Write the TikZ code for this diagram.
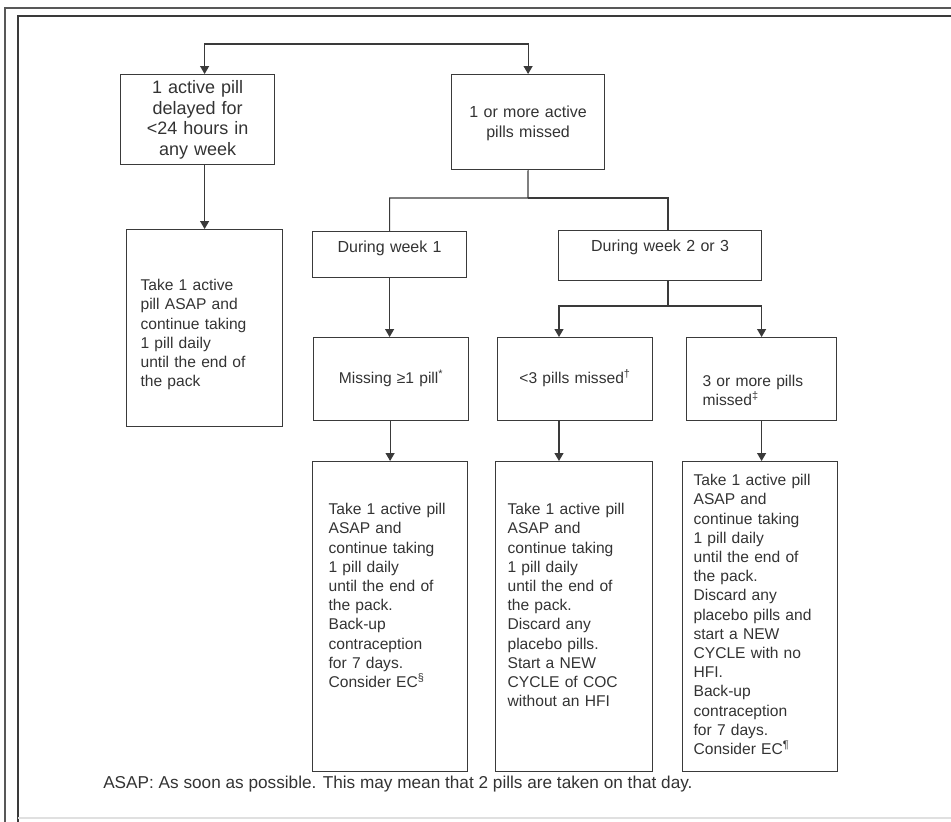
\documentclass[tikz,border=0pt]{standalone}
\usepackage{fontspec}
\setmainfont{Liberation Sans}
\usetikzlibrary{arrows.meta}

\definecolor{ink}{HTML}{333333}
\definecolor{rule}{HTML}{3A3A3A}
\newcommand\bodyfont{\fontsize{11.7}{14.4}\selectfont}
\newcommand\bigfont{\fontsize{13.5}{15.4}\selectfont}
\newcommand\midfont{\fontsize{12}{15}\selectfont}
\newcommand\notefont{\fontsize{12.9}{15}\selectfont}

\tikzset{
  box/.style={draw=rule, line width=0.9pt, text=ink, anchor=north west, inner ysep=0pt, font=\bodyfont},
  cell/.style n args={4}{inner xsep=#1, text width=#2, text height=#3, text depth=#4},
  link/.style={draw=rule, line width=0.9pt},
  arr/.style={link, -{Triangle[length=6pt,width=6.75pt]}},
}

\begin{document}
\begin{tikzpicture}[x=0.75pt, y=-0.75pt]
  \useasboundingbox (0,0) rectangle (951,822);
  % frame
  \draw[draw=rule!85, line width=1.5pt] (5,822) -- (5,8) -- (951,8);
  \draw[draw=rule, line width=1.1pt] (18,822) -- (18,16) -- (951,16);
  \draw[draw=black!12, line width=0.8pt] (18,818) -- (951,818);

  % first row
  \node[box, align=center, font=\bigfont, cell={0pt}{115.5pt}{14.25pt}{53.25pt}] (delayed) at (120,74)
    {1 active pill\\delayed for\\<24 hours in\\any week};
  \node[box, align=center, font=\midfont, cell={0pt}{114.75pt}{32.25pt}{39pt}] (missed) at (451,74)
    {1 or more active\\pills missed};

  % second row
  \node[box, align=left, cell={10.5pt}{96pt}{45.75pt}{102pt}] (takeone) at (126,229)
    {Take 1 active\\pill ASAP and\\continue taking\\1 pill daily\\until the end of\\the pack};
  \node[box, align=center, font=\midfont, cell={0pt}{115.5pt}{15.75pt}{18.75pt}] (wk1) at (312,231) {During week 1};
  \node[box, align=center, font=\midfont, cell={0pt}{152.25pt}{15.75pt}{21.75pt}] (wk23) at (558,230) {During week 2 or 3};

  % third row
  \node[box, align=center, cell={0pt}{116.25pt}{34.5pt}{27.75pt}] (miss1) at (313,337) {Missing ≥1 pill\textsuperscript{*}};
  \node[box, align=center, cell={0pt}{116.25pt}{34.5pt}{27.75pt}] (lt3) at (497,337) {<3 pills missed\textsuperscript{†}};
  \node[box, align=left, cell={12pt}{88.5pt}{36.75pt}{25.5pt}] (ge3) at (686,337) {3 or more pills\\missed\textsuperscript{‡}};

  % actions
  \node[box, align=left, cell={12pt}{92.25pt}{39.75pt}{192.75pt}] (actW1) at (312,461)
    {Take 1 active pill\\ASAP and\\continue taking\\1 pill daily\\until the end of\\the pack.\\Back-up\\contraception\\for 7 days.\\Consider EC\textsuperscript{§}};
  \node[box, align=left, cell={9pt}{99.75pt}{39.75pt}{192.75pt}] (actLt3) at (495,461)
    {Take 1 active pill\\ASAP and\\continue taking\\1 pill daily\\until the end of\\the pack.\\Discard any\\placebo pills.\\Start a NEW\\CYCLE of COC\\without an HFI};
  \node[box, align=left, cell={8.25pt}{99.75pt}{18pt}{214.5pt}] (actGe3) at (682,461)
    {Take 1 active pill\\ASAP and\\continue taking\\1 pill daily\\until the end of\\the pack.\\Discard any\\placebo pills and\\start a NEW\\CYCLE with no\\HFI.\\Back-up\\contraception\\for 7 days.\\Consider EC\textsuperscript{¶}};

  \node[anchor=base west, text=ink, font=\notefont, inner sep=0pt] (asap) at (103,788)
    {ASAP: As soon as possible. This may mean that 2 pills are taken on that day.};

  % connectors
  \coordinate (top) at (365,44);
  \coordinate (j1) at (528,198);
  \coordinate (j2) at (668,306);
  \coordinate (colL) at (559,0);
  \draw[arr] (top) -| (delayed.north -| takeone);
  \draw[arr] (top) -| (missed.north);
  \draw[arr] (delayed.south -| takeone) -- (takeone.north);
  \draw[link] (missed.south) -- (j1) -| (wk1.north);
  \draw[link] (j1) -| (wk23.north -| j2);
  \draw[link] (wk23.south -| j2) -- (j2);
  \draw[arr] (j2) -| (lt3.north -| colL);
  \draw[arr] (j2) -| (ge3.north);
  \draw[arr] (wk1.south) -- (wk1.south |- miss1.north);
  \draw[arr] (miss1.south -| actW1.north) -- (actW1.north);
  \draw[arr] (lt3.south -| colL) -- (actLt3.north -| colL);
  \draw[arr] (ge3.south) -- (ge3.south |- actGe3.north);
\end{tikzpicture}
\end{document}
